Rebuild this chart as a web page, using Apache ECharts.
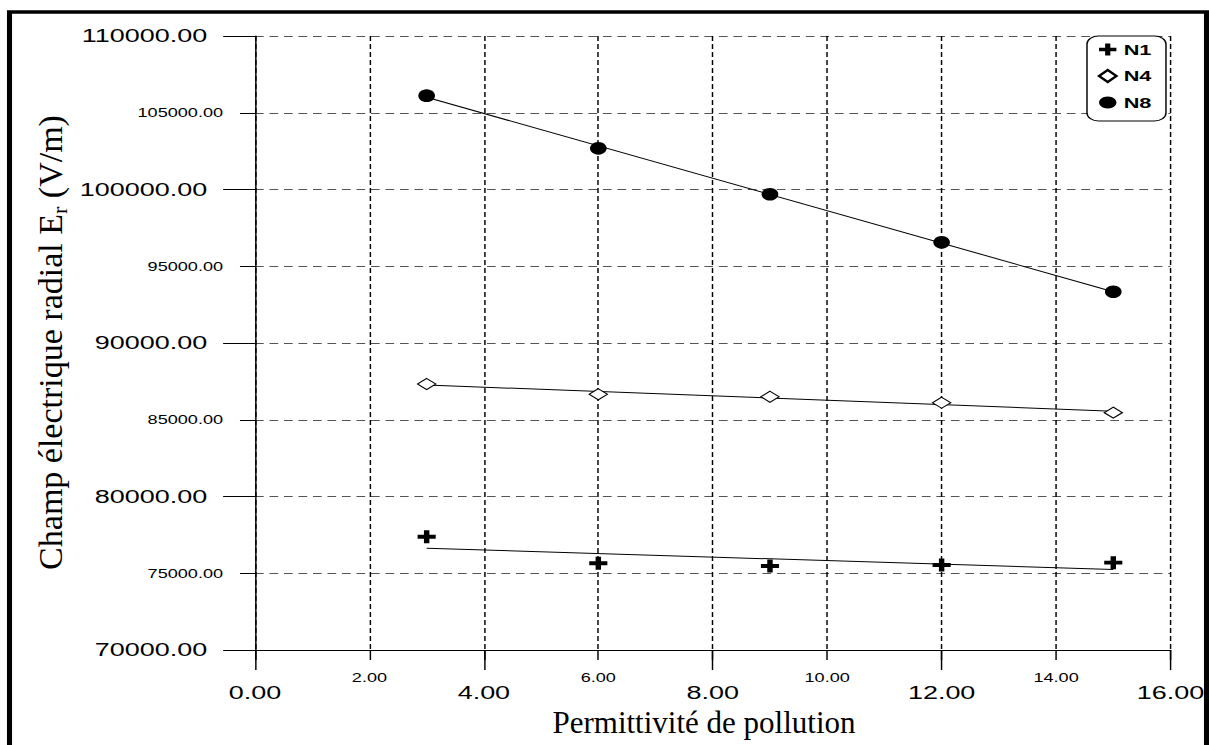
<!DOCTYPE html>
<html>
<head>
<meta charset="utf-8">
<title>Champ électrique radial</title>
<script src="https://cdn.jsdelivr.net/npm/echarts@6/dist/echarts.min.js"></script>
<style>
  html, body { margin: 0; padding: 0; background: #fff; overflow: hidden; }
  #wrap { width: 1209px; height: 745px; overflow: hidden; }
  /* the original figure is stretched horizontally, so the chart is drawn narrow and scaled */
  #chart { width: 834px; height: 745px; transform: scaleX(1.44964); transform-origin: 0 0; }
</style>
</head>
<body>
<div id="wrap"><div id="chart"></div></div>
<script>
// permittivité de pollution
const permittivite = [3, 6, 9, 12, 15];
// champ radial (V/m) aux points N1, N4, N8
const n1 = [77380, 75650, 75470, 75540, 75690];
const n4 = [87330, 86660, 86500, 86110, 85460];
const n8 = [106110, 102680, 99690, 96560, 93340];
// droites de tendance, lues aux deux extrémités
const trendX = [3, 15];
const n1Trend = [76630, 75250];
const n4Trend = [87265, 85560];
const n8Trend = [106010, 93340];
// graduations
const xMin = 0, xMax = 16, xMajor = 4, xMinor = 2;
const yMin = 70000, yMax = 110000, yMajor = 10000, yMinor = 5000;

const SX = 1209 / 834;
const sans = 'Liberation Sans, Arial, sans-serif';
const serif = 'Liberation Serif, Times New Roman, serif';
const plus = 'path://M35,0H65V35H100V65H65V100H35V65H0V35H35Z';

function pair(xs, ys) {
  return xs.map((x, i) => [x, ys[i]]);
}

function trend(data) {
  return {
    type: 'line',
    data: data,
    symbol: 'none',
    silent: true,
    z: 2,
    lineStyle: { color: '#000', width: 1 },
  };
}

const option = {
  animation: false,
  backgroundColor: '#fff',
  grid: { left: 255 / SX, right: 834 - 1170.5 / SX, top: 36, bottom: 95 },
  legend: {
    data: ['N1', 'N4', 'N8'],
    orient: 'vertical',
    left: 1087 / SX,
    top: 36,
    padding: [6, 10, 11, 7.3],
    itemWidth: 12,
    itemHeight: 12,
    itemGap: 11.5,
    selectedMode: false,
    borderColor: '#000',
    borderWidth: 1,
    borderRadius: 8,
    backgroundColor: '#fff',
    textStyle: { fontFamily: sans, fontWeight: 'bold', fontSize: 15, color: '#000', lineHeight: 12 },
  },
  xAxis: [
    {
      type: 'value', position: 'bottom', min: xMin, max: xMax, interval: xMajor,
      axisLine: { show: true, onZero: false, lineStyle: { color: '#000', width: 1 } },
      axisTick: { show: true, length: 20, lineStyle: { color: '#000' } },
      axisLabel: {
        margin: 32.7, fontFamily: sans, fontSize: 18.6, color: '#000',
        formatter: (v) => v.toFixed(2),
      },
      splitLine: { show: false },
    },
    {
      type: 'value', position: 'bottom', min: xMin, max: xMax, interval: xMinor,
      axisLine: { show: false, onZero: false },
      axisTick: { show: true, length: 10, lineStyle: { color: '#000' } },
      axisLabel: {
        margin: 21.5, fontFamily: sans, fontSize: 12.5, color: '#000',
        formatter: (v) => (v % xMajor ? v.toFixed(2) : ''),
      },
      splitLine: { show: true, lineStyle: { color: '#000', width: 1, type: [5, 3] } },
    },
  ],
  yAxis: [
    {
      type: 'value', position: 'left', min: yMin, max: yMax, interval: yMajor,
      axisLine: { show: true, onZero: false, lineStyle: { color: '#000', width: 1 } },
      axisTick: { show: true, length: 22, lineStyle: { color: '#000' } },
      axisLabel: {
        margin: 33, fontFamily: sans, fontSize: 18.6, color: '#000',
        formatter: (v) => v.toFixed(2),
      },
      splitLine: { show: false },
    },
    {
      type: 'value', position: 'left', min: yMin, max: yMax, interval: yMinor,
      axisLine: { show: false, onZero: false },
      axisTick: { show: true, length: 10.3, lineStyle: { color: '#000' } },
      axisLabel: {
        margin: 22, fontFamily: sans, fontSize: 12.5, color: '#000',
        formatter: (v) => (v % yMajor ? v.toFixed(2) : ''),
      },
      splitLine: { show: true, lineStyle: { color: '#555', width: 1, type: [6, 4] } },
    },
  ],
  series: [
    trend(pair(trendX, n1Trend)),
    trend(pair(trendX, n4Trend)),
    trend(pair(trendX, n8Trend)),
    {
      name: 'N1', type: 'scatter', data: pair(permittivite, n1), z: 3,
      symbol: plus, symbolSize: [12.5, 13], itemStyle: { color: '#000', opacity: 1 },
    },
    {
      name: 'N4', type: 'scatter', data: pair(permittivite, n4), z: 3,
      symbol: 'diamond', symbolSize: [12.5, 11],
      itemStyle: { color: '#fff', borderColor: '#000', borderWidth: 1, opacity: 1 },
    },
    {
      name: 'N8', type: 'scatter', data: pair(permittivite, n8), z: 3,
      symbol: 'circle', symbolSize: [11.5, 12.7], itemStyle: { color: '#000', opacity: 1 },
    },
  ],
  graphic: [
    {
      type: 'rect', silent: true, z: 100,
      shape: { x: 9.5 / SX, y: 12, width: 1197 / SX, height: 780 },
      style: { fill: 'none', stroke: '#000', lineWidth: 3.5 },
    },
    {
      // axis titles are not stretched in the original, so undo the page scale
      type: 'text', x: 704 / SX, y: 722.5, scaleX: 1 / SX,
      style: {
        text: 'Permittivité de pollution', fontFamily: serif, fontSize: 31,
        fill: '#000', align: 'center', verticalAlign: 'middle',
      },
    },
    {
      type: 'text', x: 50.5 / SX, y: 342.5, rotation: Math.PI / 2, scaleY: 1 / SX,
      style: {
        text: '{a|Champ électrique radial E}{s|r}{a| (V/m)}',
        fill: '#000', align: 'center', verticalAlign: 'middle',
        rich: {
          a: { fontFamily: serif, fontSize: 34, lineHeight: 40, verticalAlign: 'middle', color: '#000' },
          s: { fontFamily: serif, fontSize: 22, lineHeight: 22, verticalAlign: 'bottom', color: '#000' },
        },
      },
    },
  ],
};

const chart = echarts.init(document.getElementById('chart'), null, { renderer: 'svg' });
chart.setOption(option);
</script>
</body>
</html>
